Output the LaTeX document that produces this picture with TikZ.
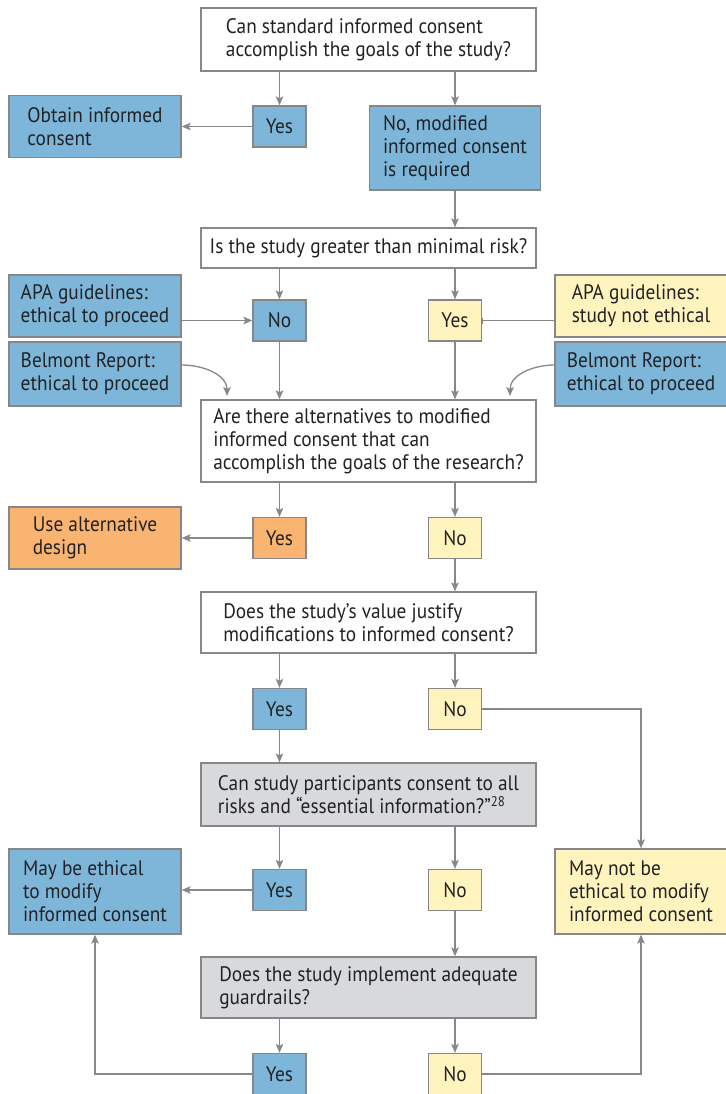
\documentclass[tikz,border=0pt]{standalone}
\usepackage{fontspec}
\setmainfont{PT Sans}[FakeStretch=0.92]
\usetikzlibrary{arrows.meta,calc}
\definecolor{boxblue}{RGB}{125,182,216}
\definecolor{boxyellow}{RGB}{255,243,190}
\definecolor{boxorange}{RGB}{248,180,112}
\definecolor{boxgray}{RGB}{216,217,219}
\definecolor{edgegray}{RGB}{135,135,138}
\definecolor{inkgray}{RGB}{34,34,38}
\newcommand{\refmark}[1]{\raisebox{7pt}{\fontsize{14}{14}\selectfont #1}}

\begin{document}
\begin{tikzpicture}[x=1pt,y=1pt,
	every node/.style={font=\fontsize{21}{23}\selectfont,text=inkgray},
	box/.style={draw=edgegray,line width=1.3pt,inner sep=0pt,align=left},
	qbox/.style={box,fill=white,minimum width=335pt,minimum height=#1},
	sidebox/.style={box,minimum width=172pt,minimum height=#1},
	ans/.style={box,align=center,minimum width=53pt,minimum height=41pt},
	arr/.style={draw=edgegray,line width=1.3pt,-{Stealth[length=9pt,width=7.5pt,inset=2pt]}}]
\useasboundingbox (0,0) rectangle (725,-1094);

\node[qbox=63pt] (q1) at (368.5,-39.5) {Can standard informed consent\\accomplish the goals of the study?};
\node[ans,fill=boxblue] (y1) at (279.5,-126.5) {Yes};
\node[sidebox=62pt,fill=boxblue] (obtain) at (95,-126.5) {Obtain informed\\consent};
\node[box,fill=boxblue,minimum width=171pt,minimum height=84pt] (nomod) at (455,-148) {No, modified\\informed consent\\is required};

\node[qbox=40pt] (q2) at (368.5,-248) {Is the study greater than minimal risk?};
\node[ans,fill=boxblue] (no2) at (279.5,-320.5) {No};
\node[ans,fill=boxyellow] (yes2) at (455,-320.5) {Yes};
\node[sidebox=62pt,fill=boxblue] (apaok) at (95,-306) {APA guidelines:\\ethical to proceed};
\node[sidebox=64pt,fill=boxblue] (belok) at (95,-374) {Belmont Report:\\ethical to proceed};
\node[sidebox=62pt,fill=boxyellow] (apanot) at (641,-306) {APA guidelines:\\study not ethical};
\node[sidebox=64pt,fill=boxblue] (belok2) at (641,-374) {Belmont Report:\\ethical to proceed};
\coordinate (belin) at (227,-396);
\coordinate (belin2) at (510,-396);

\node[qbox=82pt] (q3) at (368.5,-441) {Are there alternatives to modified\\informed consent that can\\accomplish the goals of the research?};
\node[ans,fill=boxorange] (yes3) at (279.5,-538) {Yes};
\node[ans,fill=boxyellow] (no3) at (455,-538) {No};
\node[sidebox=62pt,fill=boxorange] (alt) at (95,-538) {Use alternative\\design};

\node[qbox=61pt] (q4) at (368.5,-622.5) {Does the study’s value justify\\modifications to informed consent?};
\node[ans,fill=boxblue] (yes4) at (279.5,-709) {Yes};
\node[ans,fill=boxyellow] (no4) at (455,-709) {No};

\node[qbox=63pt,fill=boxgray] (q5) at (368.5,-794.5) {Can study participants consent to all\\risks and “essential information?”\refmark{28}};
\node[ans,fill=boxblue] (yes5) at (279.5,-890) {Yes};
\node[ans,fill=boxyellow] (no5) at (455,-890) {No};
\node[sidebox=85pt,fill=boxblue] (maybe) at (95,-891.5) {May be ethical\\to modify\\informed consent};
\node[sidebox=85pt,fill=boxyellow] (maynot) at (641,-891.5) {May not be\\ethical to modify\\informed consent};

\node[qbox=61pt,fill=boxgray] (q6) at (368.5,-987.5) {Does the study implement adequate\\guardrails?};
\node[ans,fill=boxblue] (yes6) at (279.5,-1074) {Yes};
\node[ans,fill=boxyellow] (no6) at (455,-1074) {No};

\foreach \q/\a in {q1/y1,q1/nomod,q2/no2,q2/yes2,q3/yes3,q3/no3,q4/yes4,q4/no4,q5/yes5,q5/no5,q6/yes6,q6/no6}
{
	\draw[arr] (\q.south -| \a) -- (\a);
}
\foreach \a/\q in {nomod/q2,no2/q3,yes2/q3,no3/q4,yes4/q5,no5/q6}
{
	\draw[arr] (\a) -- (\a |- \q.north);
}
\draw[arr] (y1) -- (obtain);
\draw[arr] (apaok.east |- no2) -- (no2);
\draw[arr,-{Bar[width=6pt,line width=1.3pt]}] (apanot.west |- yes2) -- (yes2);
\draw[arr] ([yshift=9pt]belok.east) to[out=0,in=90] (belin);
\draw[arr] ([yshift=9pt]belok2.west) to[out=180,in=90] (belin2);
\draw[arr] (yes3) -- (alt);
\draw[arr] (no4) -| (maynot);
\draw[arr] (yes5) -- (yes5 -| maybe.east);
\draw[arr] (yes6) -| (maybe);
\draw[arr] (no6) -| (maynot);

\end{tikzpicture}
\end{document}
